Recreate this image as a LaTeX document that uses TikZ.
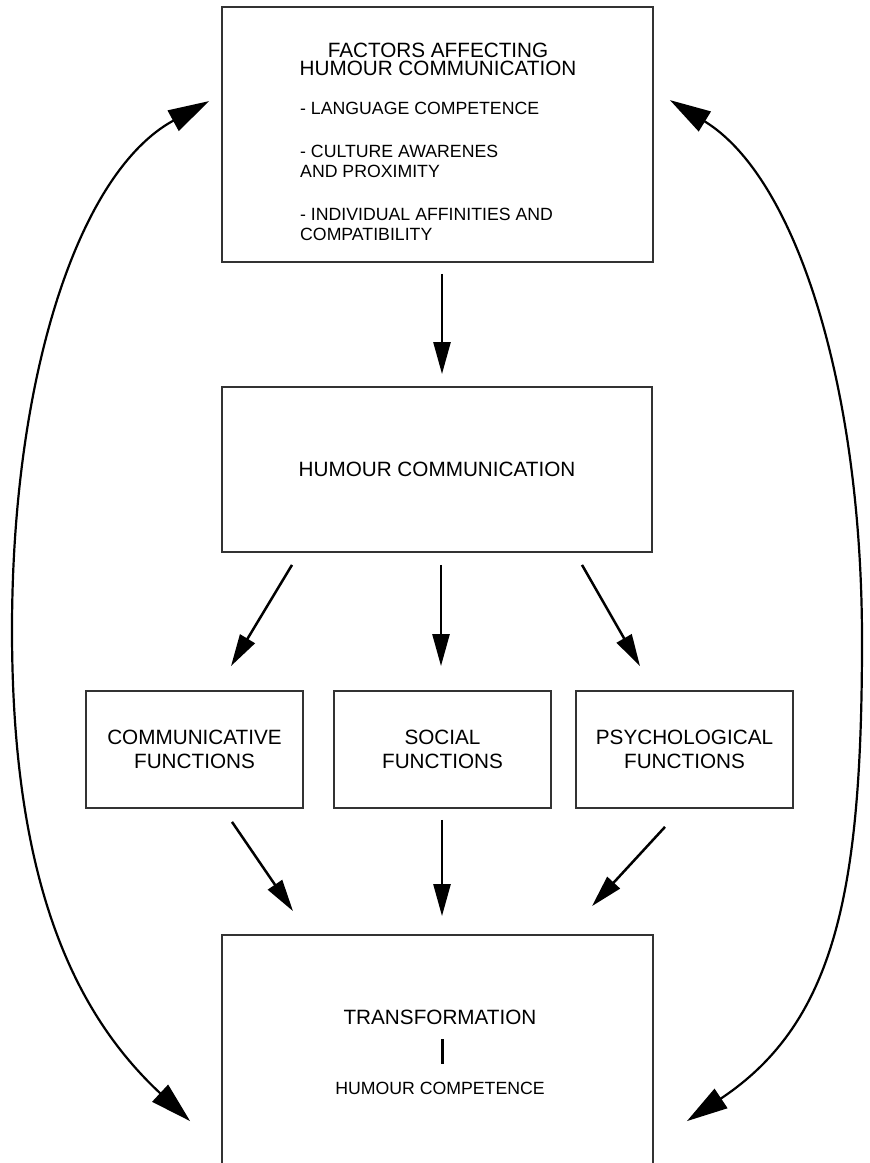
\documentclass[tikz,border=0pt]{standalone}
\usepackage{fontspec}
\setmainfont{Liberation Sans}
\usetikzlibrary{arrows.meta,calc}
\definecolor{grey}{gray}{0.2}

\begin{document}
\begin{tikzpicture}[x=1pt,y=-1pt]
    \tikzset{%
      box/.style={draw=grey, line width=1.8pt, inner sep=0pt, align=center},
      txt/.style={inner sep=0pt},
      big/.style={font=\fontsize{20.7}{24}\selectfont},
      small/.style={font=\fontsize{17.7}{20}\selectfont},
      arr/.style={line width=2.5pt, -{Triangle[length=32pt,width=17pt]}},
      longarr/.style={line width=2.2pt,
        {Triangle[length=41pt,width=23pt]}-{Triangle[length=41pt,width=23pt]}},
    }
    \useasboundingbox (0,0) rectangle (870,1163);
    \clip (0,0) rectangle (870,1163);

    % factors
    \node[box, minimum width=431, minimum height=255] (F) at (437.5,134.5) {};
    \node[txt, align=center, font=\fontsize{20.7}{18.4}\selectfont, anchor=north]
      (F1) at (438,42.6) {FACTORS AFFECTING\\HUMOUR COMMUNICATION};
    \node[txt, small, align=left, anchor=north west] (F2) at (300,101.7)
      {- LANGUAGE COMPETENCE\\[23.5pt]
       - CULTURE AWARENES\\AND PROXIMITY\\[23pt]
       - INDIVIDUAL AFFINITIES AND\\COMPATIBILITY};

    \node[box, big, minimum width=430, minimum height=165] (H) at (437,469.5)
      {HUMOUR COMMUNICATION};
    \draw[arr] ($(F.south)+(4.5,11)$) -- ($(H.north)+(5,-12)$);

    % functions
    \node[box, big, minimum width=217, minimum height=117] (C) at (194.5,749.5)
      {COMMUNICATIVE\\FUNCTIONS};
    \node[box, big, minimum width=217, minimum height=117] (S) at (442.5,749.5)
      {SOCIAL\\FUNCTIONS};
    \node[box, big, minimum width=217, minimum height=117] (P) at (684.5,749.5)
      {PSYCHOLOGICAL\\FUNCTIONS};

    \draw[arr] ($(H.south)+(-145,12)$) -- ($(C.north)+(36.5,-24)$);
    \draw[arr] ($(H.south)+(4,12)$) -- ($(S.north)+(-1.5,-24)$);
    \draw[arr] ($(H.south)+(145,12)$) -- ($(P.north)+(-44.5,-24)$);

    % transformation
    \node[box, minimum width=431, minimum height=240] (T) at (437.5,1055) {};
    \node[txt, big, anchor=base] (T1) at (440,1024.4) {TRANSFORMATION};
    \node[txt, small, anchor=base] (T2) at (440,1094.3) {HUMOUR COMPETENCE};
    \draw[line width=3pt] ($(T1.base)+(2,15)$) -- ($(T2.base)+(2,-30)$);

    \draw[arr] ($(C.south)+(37.5,13)$) -- ($(T.north)+(-144.5,-23)$);
    \draw[arr] ($(S.south)+(-0.5,11)$) -- ($(T.north)+(4.5,-18)$);
    \draw[arr] ($(P.south)+(-19.5,18)$) -- ($(T.north)+(154.5,-28)$);

    % feedback
    \coordinate (L) at (12,630);
    \coordinate (R) at (862,640);
    \draw[longarr] ($(T.north west)+(-31,187)$)
      .. controls ($(T.north west)+(-148,78)$) and ($(L)+(0,250)$) .. (L)
      .. controls ($(L)+(0,-250)$) and ($(F.north west)+(-144,167)$)
      .. ($(F.north west)+(-12,95)$);
    \draw[longarr] ($(T.north east)+(33,187)$)
      .. controls ($(T.north east)+(182,88)$) and ($(R)+(0,250)$) .. (R)
      .. controls ($(R)+(0,-250)$) and ($(F.north east)+(143.5,172)$)
      .. ($(F.north east)+(16,94)$);
\end{tikzpicture}
\end{document}
